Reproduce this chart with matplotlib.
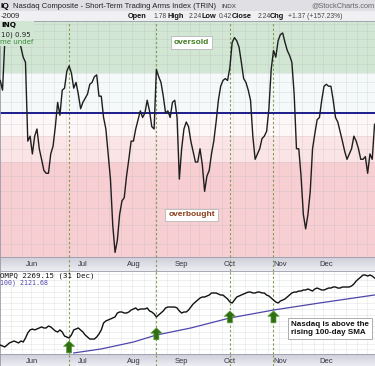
import numpy as np
import pandas as pd
import matplotlib
matplotlib.use("Agg")
import matplotlib.pyplot as plt
from matplotlib.patches import Rectangle

plt.rcParams['font.family'] = ['Liberation Sans', 'DejaVu Sans']

# trading days on the chart (May 11 - Dec 31, 2009)
holidays = pd.to_datetime(["2009-05-25", "2009-07-03", "2009-09-07", "2009-11-26", "2009-12-25"])
dates = pd.bdate_range("2009-05-11", "2009-12-31")
dates = dates[~dates.isin(holidays)]

# 10-day SMA of Nasdaq TRIN, one value per trading day
trin = [1.16, 1.11, 1.39, 1.46, 1.47, 1.48, 1.47, 1.46, 1.42, 1.35,
        1.29, 1.26, 0.88, 0.90, 0.83, 0.90, 0.93, 0.85, 0.81, 0.77,
        0.76, 0.76, 0.83, 0.86, 0.94, 1.05, 0.99, 1.11, 1.12, 1.21,
        1.24, 1.20, 1.12, 1.15, 1.09, 1.02, 1.05, 1.07, 1.09, 1.14,
        1.15, 1.18, 1.19, 1.08, 1.08, 0.98, 0.93, 0.83, 0.74, 0.60,
        0.53, 0.56, 0.63, 0.67, 0.68, 0.75, 0.81, 0.88, 0.88, 0.93,
        0.97, 1.01, 0.98, 1.00, 1.06, 1.01, 0.94, 0.93, 1.22, 1.18,
        1.15, 1.08, 1.00, 1.01, 0.98, 1.05, 1.06, 0.98, 0.74, 0.85,
        0.93, 0.96, 0.94, 0.88, 0.84, 0.80, 0.80, 0.85, 0.79, 0.70,
        0.75, 0.77, 0.83, 0.88, 0.96, 1.06, 1.13, 1.16, 1.17, 1.16,
        1.23, 1.38, 1.41, 1.39, 1.35, 1.26, 1.17, 1.15, 1.11, 1.06,
        0.90, 0.81, 0.83, 0.85, 0.89, 0.90, 0.92, 1.02, 1.22, 1.33,
        1.29, 1.39, 1.43, 1.44, 1.38, 1.33, 1.30, 1.26, 1.09, 0.85,
        0.85, 0.75, 0.63, 0.59, 0.63, 0.70, 0.85, 0.91, 0.97, 0.98,
        1.06, 1.13, 1.14, 1.13, 1.13, 1.06, 0.98, 0.96, 0.92, 0.88,
        0.84, 0.81, 0.83, 0.85, 0.90, 0.88, 0.85, 0.81, 0.81, 0.82,
        0.76, 0.83, 0.81, 0.95]

# Nasdaq Composite close
compq = [1687, 1679, 1670, 1687, 1705, 1713, 1722, 1713, 1705, 1722,
         1713, 1748, 1792, 1818, 1826, 1818, 1826, 1835, 1844, 1835,
         1835, 1852, 1844, 1826, 1809, 1800, 1818, 1800, 1765, 1757,
         1748, 1774, 1818, 1826, 1835, 1818, 1800, 1774, 1757, 1739,
         1739, 1739, 1757, 1783, 1818, 1878, 1896, 1904, 1913, 1922,
         1931, 1965, 1974, 1974, 1965, 1965, 1974, 1991, 2000, 2009,
         1991, 2000, 2000, 2000, 2009, 1983, 1974, 1957, 1931, 1948,
         1965, 1983, 2009, 2017, 2017, 2017, 2017, 2009, 1983, 1965,
         1974, 1974, 1991, 2017, 2043, 2061, 2078, 2095, 2104, 2104,
         2113, 2121, 2139, 2139, 2139, 2130, 2121, 2121, 2104, 2087,
         2061, 2052, 2078, 2104, 2113, 2121, 2130, 2139, 2147, 2147,
         2139, 2139, 2147, 2147, 2139, 2139, 2121, 2113, 2095, 2078,
         2061, 2052, 2069, 2078, 2087, 2104, 2121, 2139, 2147, 2147,
         2156, 2156, 2165, 2165, 2174, 2165, 2156, 2174, 2182, 2174,
         2165, 2165, 2174, 2182, 2182, 2191, 2191, 2182, 2182, 2191,
         2191, 2191, 2191, 2200, 2217, 2243, 2260, 2278, 2295, 2295,
         2286, 2295, 2286, 2269.15]

# 100-day SMA of the Nasdaq (read at a few dates)
sma_dates = ["2009-06-25", "2009-07-14", "2009-08-03", "2009-08-17", "2009-09-08",
             "2009-10-01", "2009-10-28", "2009-11-25", "2009-12-31"]
sma_vals = [1618, 1653, 1713, 1774, 1835, 1922, 1991, 2052, 2121.68]

signal_dates = ["2009-06-23", "2009-08-17", "2009-10-01", "2009-10-28"]
month_labels = ["Jun", "Jul", "Aug", "Sep", "Oct", "Nov", "Dec"]
oversold_level = 1.2
overbought_level = 0.8

x = np.arange(len(dates))
pos = lambda d: dates.get_loc(pd.Timestamp(d))
month_starts = [np.searchsorted(dates, pd.Timestamp(2009, m, 1)) for m in range(6, 13)]
week_starts = [i for i in range(1, len(dates)) if dates[i].weekday() < dates[i - 1].weekday()]
signal_x = [pos(d) for d in signal_dates]
sma_x = [pos(d) for d in sma_dates]

H = 366.0
fig = plt.figure(figsize=(3.75, 3.66), dpi=100)
fig.patch.set_facecolor('white')


def rect(top, bottom):
    return [0, 1 - bottom / H, 1, (bottom - top) / H]


ax1 = fig.add_axes(rect(21, 257))
band1 = fig.add_axes(rect(257, 271), sharex=ax1)
ax2 = fig.add_axes(rect(271, 354), sharex=ax1)
band2 = fig.add_axes(rect(354, 366), sharex=ax1)

for ax in (ax1, band1, ax2, band2):
    ax.tick_params(which='both', length=0, labelbottom=False, labelleft=False)
    for s in ax.spines.values():
        s.set_color('#9a9aa8')
        s.set_linewidth(0.6)
    for xs in signal_x:
        ax.axvline(xs, color='#7f9a4c', ls=(0, (2, 2)), lw=0.8, zorder=2)
ax1.set_xlim(-0.1, 163.2)

# header rows
fig.add_artist(Rectangle((0, 1 - 11 / H), 1, 11 / H, transform=fig.transFigure,
                         fc='#e0e0e4', ec='none', zorder=0))
fig.add_artist(Rectangle((0, 1 - 21 / H), 1, 10 / H, transform=fig.transFigure,
                         fc='#f0f0f2', ec='none', zorder=0))


def fx(px):
    return px / 375.0


def fy(py):
    return 1 - py / H


fig.text(fx(0.5), fy(6), "IQ", ha='left', va='center', fontsize=6, fontweight='bold')
fig.text(fx(13), fy(6), "Nasdaq Composite - Short-Term Trading Arms Index (TRIN)",
         ha='left', va='center', fontsize=5.5, color='#222222')
fig.text(fx(221), fy(6.5), "INDX", ha='left', va='center', fontsize=4.5, color='#333333')
fig.text(fx(374), fy(6), "@StockCharts.com", ha='right', va='center', fontsize=5.3, color='#666666')

fig.text(fx(0.5), fy(16), "-2009", ha='left', va='center', fontsize=5.5, color='#222222')
header2 = [(128, "Open", True), (153, "1.78", False), (167, "High", True), (189, "2.24", False),
           (202, "Low", True), (218.5, "0.42", False), (232, "Close", True), (257.5, "2.24", False),
           (270, "Chg", True), (288, "+1.37 (+157.23%)", False)]
for px, t, b in header2:
    fig.text(fx(px), fy(16), t, ha='left', va='center', fontsize=5.3 if b else 4.9,
             fontweight='bold' if b else 'normal', color='#111111' if b else '#444444')

# ---- TRIN panel ----
ax1.set_yscale('log')
ax1.set_ylim(0.519, 1.521)
ax1.axhspan(oversold_level, 2.0, color='#d2e6d4', lw=0, zorder=0)
ax1.axhspan(1.0, oversold_level, color='#f5f9f9', lw=0, zorder=0)
ax1.axhspan(0.9, 1.0, color='#fdf7f8', lw=0, zorder=0)
ax1.axhspan(overbought_level, 0.9, color='#fbe4e6', lw=0, zorder=0)
ax1.axhspan(0.4, overbought_level, color='#f7ced2', lw=0, zorder=0)
for v in np.arange(0.55, 1.51, 0.05):
    ax1.axhline(v, color='#b0b8bc', lw=0.4, alpha=0.4, zorder=1)
for w in week_starts:
    ax1.axvline(w - 0.5, color='#b0b8bc', lw=0.4, alpha=0.4, zorder=1)
ax1.axhline(1.0, color='#1c1c8c', lw=1.4, zorder=2)
ax1.plot(x, trin, color='#1e1e1e', lw=1.0, zorder=3)
ax1.minorticks_off()

ax1.add_patch(Rectangle((0, 1 - 25 / 236), 34 / 375, 25 / 236, transform=ax1.transAxes,
                        fc='#d2e6d4', ec='none', zorder=4))
ax1.text(fx(1), 1 - 4 / 236, "INQ", transform=ax1.transAxes, ha='left', va='center',
         fontsize=5.3, fontweight='bold', family='DejaVu Sans', zorder=5)
ax1.text(fx(1), 1 - 14 / 236, "10) 0.95", transform=ax1.transAxes, ha='left', va='center',
         fontsize=5, family='DejaVu Sans', color='#222222', zorder=5)
ax1.text(fx(0.5), 1 - 21.5 / 236, "me undef", transform=ax1.transAxes, ha='left', va='center',
         fontsize=5, family='DejaVu Sans', color='#3c8a3c', zorder=5)

ax1.text(0.51, 0.909, "oversold", transform=ax1.transAxes, ha='center', va='center',
         fontsize=6, fontweight='bold', color='#3f7a1c', zorder=5,
         bbox=dict(boxstyle='square,pad=0.35', fc='white', ec='#b8b8b8', lw=0.6))
ax1.text(0.511, 0.178, "overbought", transform=ax1.transAxes, ha='center', va='center',
         fontsize=6, fontweight='bold', color='#8a3a14', zorder=5,
         bbox=dict(boxstyle='square,pad=0.35', fc='white', ec='#b8b8b8', lw=0.6))

# ---- date bands ----
grad = np.linspace(0, 1, 20)[:, None]
for band, ly in ((band1, 0.45), (band2, 0.4)):
    band.set_ylim(0, 1)
    band.imshow(grad, extent=(0, 1, 0, 1), transform=band.transAxes, aspect='auto',
                cmap=matplotlib.colors.LinearSegmentedColormap.from_list('b', ['#cfcfdb', '#ececf2']),
                zorder=0)
    for ms, lab in zip(month_starts, month_labels):
        band.text(ms, ly, lab, ha='center', va='center', fontsize=5.5, color='#333340')

# ---- Nasdaq panel ----
ax2.set_ylim(1609, 2330)
ax2.set_facecolor('white')
for v in range(1650, 2331, 50):
    ax2.axhline(v, color='#b0b8bc', lw=0.4, alpha=0.35, zorder=1)
for w in week_starts:
    ax2.axvline(w - 0.5, color='#b0b8bc', lw=0.4, alpha=0.35, zorder=1)
ax2.plot(sma_x, sma_vals, color='#4e46aa', lw=0.9, zorder=3)
ax2.plot(x, compq, color='#111111', lw=1.0, zorder=4)

arrow_gaps = [2.2, 7.9, 6.5, 7.9]
for xs, gap in zip(signal_x, arrow_gaps):
    ax2.annotate('', xy=(xs, compq[xs]), xytext=(0, -(gap + 8.5)), textcoords='offset points',
                 arrowprops=dict(arrowstyle='simple,head_length=0.38,head_width=0.8,tail_width=0.36',
                                 mutation_scale=10, shrinkA=0, shrinkB=gap,
                                 fc='#2f6f12', ec='#5c9a3a', lw=0.5), zorder=5)

ax2.text(fx(0.5), 1 - 4.5 / 83, "OMPQ 2269.15 (31 Dec)", transform=ax2.transAxes, ha='left',
         va='center', fontsize=5.3, family='DejaVu Sans Mono', color='#111111', zorder=5)
ax2.text(fx(0.5), 1 - 12 / 83, "100) 2121.68", transform=ax2.transAxes, ha='left',
         va='center', fontsize=4.8, family='DejaVu Sans Mono', color='#4e46aa', zorder=5)

ax2.text(0.776, 0.307, "Nasdaq is above the\nrising 100-day SMA", transform=ax2.transAxes,
         ha='left', va='center', fontsize=5.8, fontweight='bold', color='#111111',
         linespacing=1.3, zorder=6,
         bbox=dict(boxstyle='square,pad=0.4', fc='white', ec='#a0a0a0', lw=0.6))

fig.savefig("out.png", dpi=100, facecolor='white')
